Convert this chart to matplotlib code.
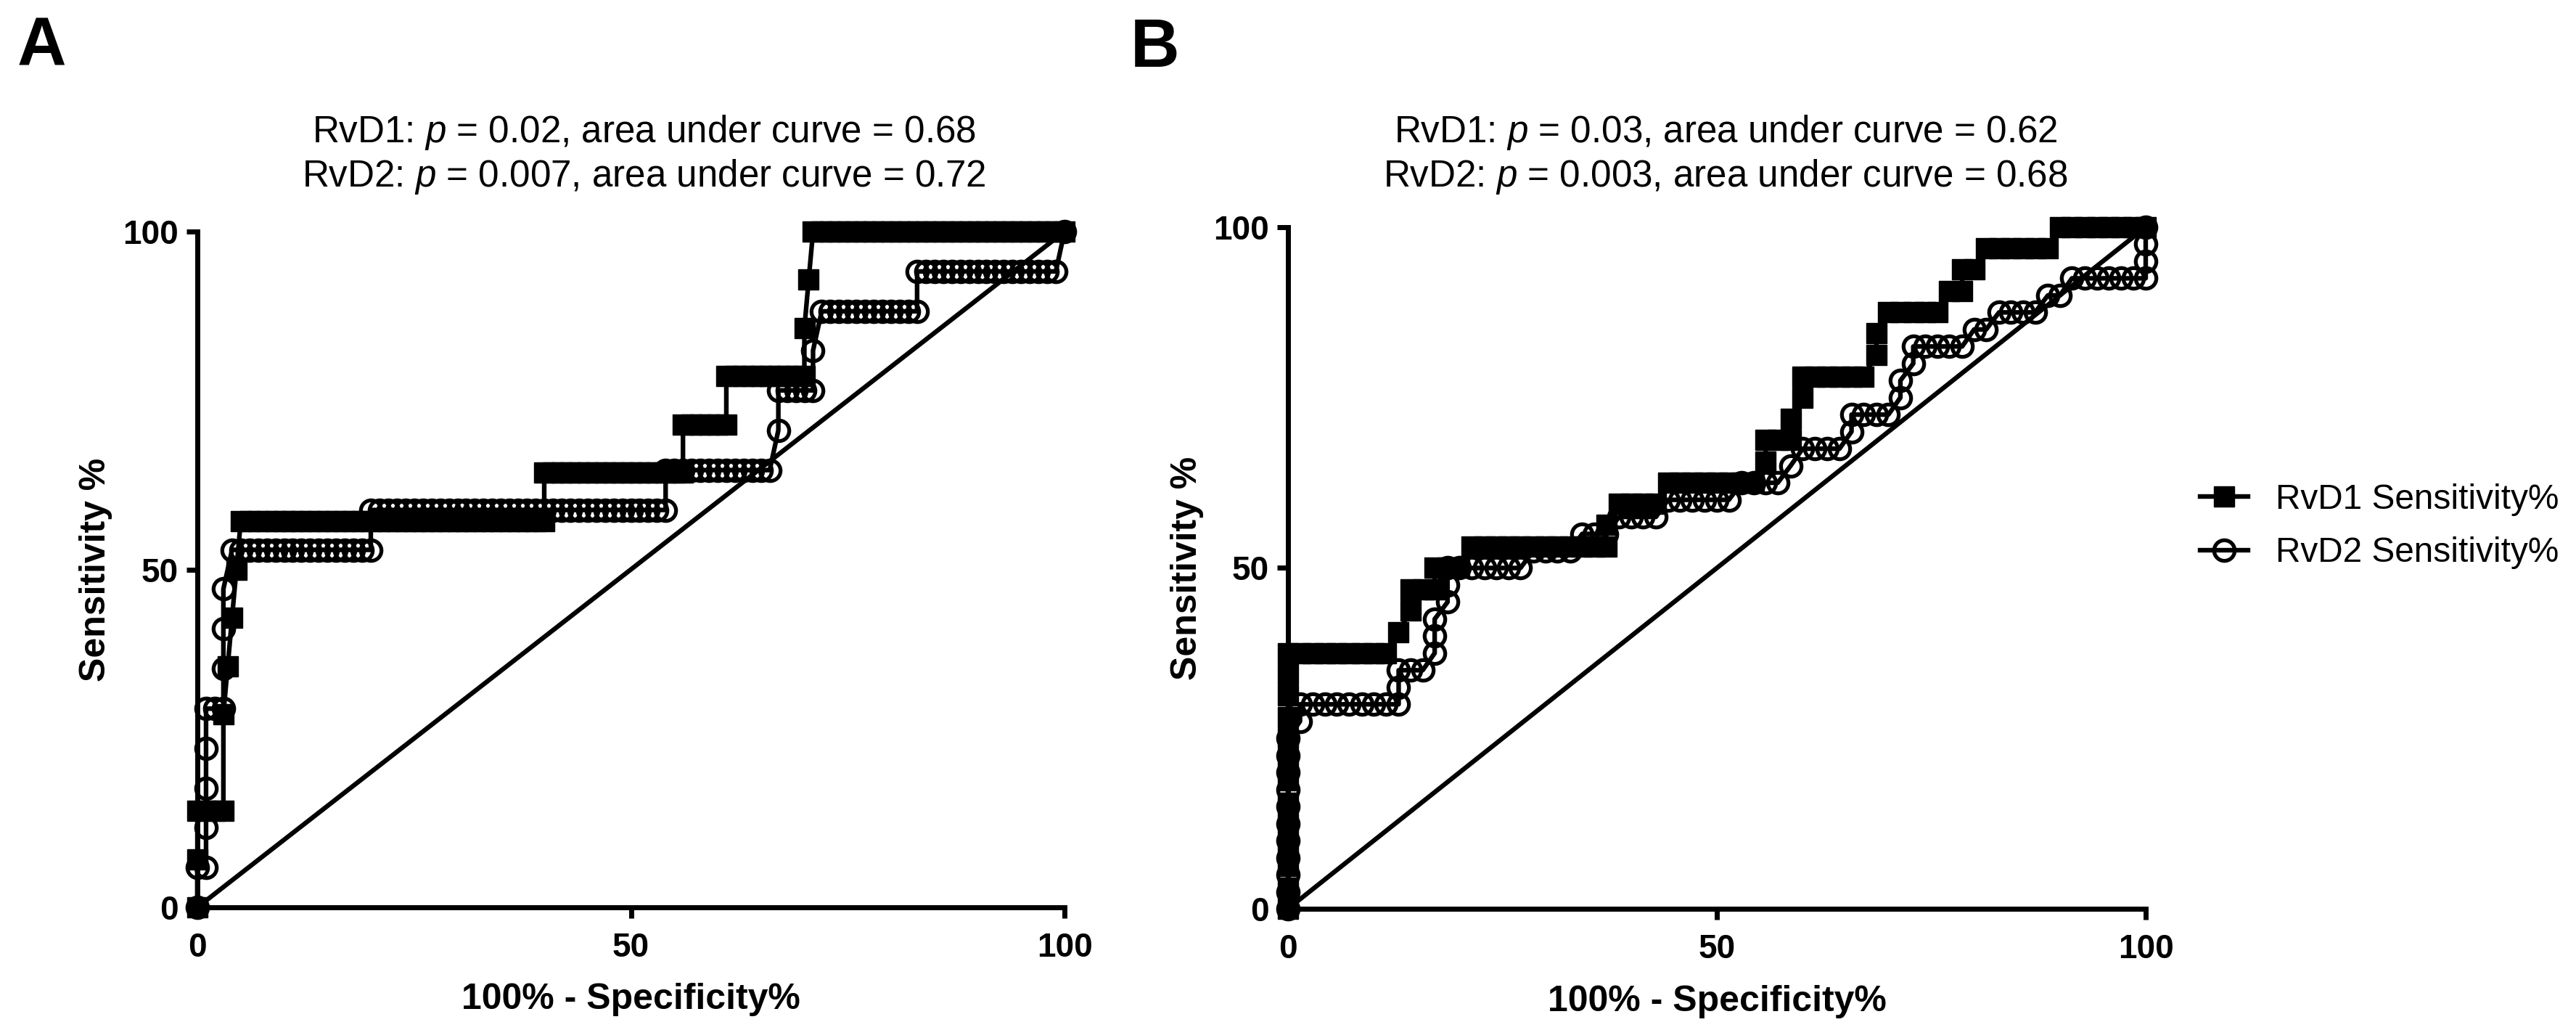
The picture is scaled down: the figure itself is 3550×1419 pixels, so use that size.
import matplotlib
matplotlib.use("Agg")
import matplotlib.pyplot as plt

plt.rcParams['font.family'] = ['Liberation Sans', 'DejaVu Sans']
plt.rcParams['mathtext.fontset'] = 'custom'
plt.rcParams['mathtext.rm'] = 'Liberation Sans'
plt.rcParams['mathtext.it'] = 'Liberation Sans:italic'

# ---- data: sensitivity level -> list of (100% - specificity%) values ----
# panel A, RvD1 (filled squares)
a_rvd1_sens = [0, 7.1, 14.3, 28.6, 35.7, 42.9, 50.0, 57.1, 64.3, 71.4, 78.6, 85.7, 92.9, 100]
a_rvd1_fpr = [
    [0], [0], [0, 1, 2, 3], [3], [3.5], [4], [4.5],
    [5, 6, 7, 8, 9, 10, 11, 12, 13, 14, 15, 16, 17, 18, 19, 20, 21, 22, 23, 24,
     25, 26, 27, 28, 29, 30, 31, 32, 33, 34, 35, 36, 37, 38, 39, 40],
    [40, 41, 42, 43, 44, 45, 46, 47, 48, 49, 50, 51, 52, 53, 54, 55, 56],
    [56, 57, 58, 59, 60, 61],
    [61, 62, 63, 64, 65, 66, 67, 68, 69, 70],
    [70], [70.5],
    [71, 72, 73, 74, 75, 76, 77, 78, 79, 80, 81, 82, 83, 84, 85, 86, 87, 88, 89, 90,
     91, 92, 93, 94, 95, 96, 97, 98, 99, 100],
]

# panel A, RvD2 (open circles)
a_rvd2_sens = [0, 5.9, 11.8, 17.6, 23.5, 29.4, 35.3, 41.2, 47.1, 52.9, 58.8, 64.7,
               70.6, 76.5, 82.4, 88.2, 94.1, 100]
a_rvd2_fpr = [
    [0], [0, 1], [1], [1], [1], [1, 2, 3], [3], [3], [3],
    [4, 5, 6, 7, 8, 9, 10, 11, 12, 13, 14, 15, 16, 17, 18, 19, 20],
    [20, 21, 22, 23, 24, 25, 26, 27, 28, 29, 30, 31, 32, 33, 34, 35, 36, 37, 38, 39,
     40, 41, 42, 43, 44, 45, 46, 47, 48, 49, 50, 51, 52, 53, 54],
    [54, 55, 56, 57, 58, 59, 60, 61, 62, 63, 64, 65, 66],
    [67],
    [67, 68, 69, 70, 71],
    [71],
    [72, 73, 74, 75, 76, 77, 78, 79, 80, 81, 82, 83],
    [83, 84, 85, 86, 87, 88, 89, 90, 91, 92, 93, 94, 95, 96, 97, 98, 99],
    [100],
]

# panel B, RvD1 (filled squares)
b_rvd1_sens = [0, 3.1, 6.3, 9.4, 12.5, 15.6, 18.8, 21.9, 25.0, 28.1, 31.3, 34.4,
               37.5, 40.6, 43.8, 46.9, 50.0, 53.1, 56.3, 59.4, 62.5, 65.6, 68.8,
               71.9, 75.0, 78.1, 81.3, 84.4, 87.5, 90.6, 93.8, 96.9, 100]
b_rvd1_fpr = [
    [0], [0], [0], [0], [0], [0], [0], [0], [0], [0], [0], [0],
    [0, 1.4, 2.9, 4.3, 5.7, 7.1, 8.6, 10, 11.4],
    [12.9], [14.3], [14.3, 15.7, 17.1], [17.1, 18.6, 20],
    [21.4, 22.9, 24.3, 25.7, 27.1, 28.6, 30, 31.4, 32.9, 34.3, 35.7, 37.1],
    [37.1],
    [38.6, 40, 41.4, 42.9],
    [44.3, 45.7, 47.1, 48.6, 50, 51.4, 52.9, 54.3],
    [55.7],
    [55.7, 57.1, 58.6],
    [58.6], [60],
    [60, 61.4, 62.9, 64.3, 65.7, 67.1],
    [68.6], [68.6],
    [70, 71.4, 72.9, 74.3, 75.7],
    [77.1, 78.6],
    [78.6, 80],
    [81.4, 82.9, 84.3, 85.7, 87.1, 88.6],
    [90, 91.4, 92.9, 94.3, 95.7, 97.1, 98.6, 100],
]

# panel B, RvD2 (open circles)
b_rvd2_sens = [0, 2.5, 5, 7.5, 10, 12.5, 15, 17.5, 20, 22.5, 25, 27.5, 30, 32.5,
               35, 37.5, 40, 42.5, 45, 47.5, 50, 52.5, 55, 57.5, 60, 62.5, 65,
               67.5, 70, 72.5, 75, 77.5, 80, 82.5, 85, 87.5, 90, 92.5, 95, 97.5, 100]
b_rvd2_fpr = [
    [0], [0], [0], [0], [0], [0], [0], [0], [0], [0], [0],
    [1.4],
    [1.4, 2.9, 4.3, 5.7, 7.1, 8.6, 10, 11.4, 12.9],
    [12.9],
    [12.9, 14.3, 15.7],
    [17.1], [17.1], [17.1], [18.6], [18.6],
    [18.6, 20, 21.4, 22.9, 24.3, 25.7, 27.1],
    [28.6, 30, 31.4, 32.9],
    [34.3, 35.7, 37.1],
    [38.6, 40, 41.4, 42.9],
    [44.3, 45.7, 47.1, 48.6, 50, 51.4],
    [52.9, 54.3, 55.7, 57.1],
    [58.6],
    [60, 61.4, 62.9, 64.3],
    [65.7],
    [65.7, 67.1, 68.6, 70],
    [71.4], [71.4], [72.9],
    [72.9, 74.3, 75.7, 77.1, 78.6],
    [80, 81.4],
    [82.9, 84.3, 85.7, 87.1],
    [88.6, 90],
    [91.4, 92.9, 94.3, 95.7, 97.1, 98.6, 100],
    [100], [100], [100],
]

titles_a = [r'RvD1: $p$ = 0.02, area under curve = 0.68',
            r'RvD2: $p$ = 0.007, area under curve = 0.72']
titles_b = [r'RvD1: $p$ = 0.03, area under curve = 0.62',
            r'RvD2: $p$ = 0.003, area under curve = 0.68']
series_names = ['RvD1 Sensitivity%', 'RvD2 Sensitivity%']
ticks = [0, 50, 100]
chance = [0, 100]


def roc_points(levels, runs):
    xs, ys = [], []
    for s, run in zip(levels, runs):
        for f in run:
            xs.append(f)
            ys.append(s)
    return xs, ys


W, H = 3550, 1419
fig = plt.figure(figsize=(W / 200, H / 200), dpi=200)

ax_a = fig.add_axes([272 / W, 1 - 1250 / H, 1195 / W, 931 / H])
ax_b = fig.add_axes([1775 / W, 1 - 1252 / H, 1182 / W, 939 / H])

line_kw = dict(color='black', lw=2.3, clip_on=False)
sq_kw = dict(marker='s', ms=10.2, mfc='black', mec='black', mew=0.5)
ci_kw = dict(marker='o', ms=10.2, mfc='none', mec='black', mew=1.9)

handles = []
for ax, d1, d2 in [(ax_a, (a_rvd1_sens, a_rvd1_fpr), (a_rvd2_sens, a_rvd2_fpr)),
                   (ax_b, (b_rvd1_sens, b_rvd1_fpr), (b_rvd2_sens, b_rvd2_fpr))]:
    ax.plot(chance, chance, color='black', lw=2.3, zorder=2, clip_on=False)
    x1, y1 = roc_points(*d1)
    x2, y2 = roc_points(*d2)
    h1, = ax.plot(x1, y1, zorder=3, **line_kw, **sq_kw)
    h2, = ax.plot(x2, y2, zorder=4, **line_kw, **ci_kw)
    handles = [h1, h2]

    ax.set_xlim(0, 100)
    ax.set_ylim(0, 100)
    ax.set_xticks(ticks)
    ax.set_yticks(ticks)
    for side in ['top', 'right']:
        ax.spines[side].set_visible(False)
    for side in ['left', 'bottom']:
        ax.spines[side].set_linewidth(2.5)
    ax.tick_params(axis='both', length=5.4, width=2.5, labelsize=16.5)
    ax.tick_params(axis='x', pad=7)
    ax.tick_params(axis='y', pad=4)
    for lab in ax.get_xticklabels() + ax.get_yticklabels():
        lab.set_fontweight('bold')
    ax.set_xlabel('100% - Specificity%', fontsize=18, fontweight='bold')
    ax.set_ylabel('Sensitivity %', fontsize=18, fontweight='bold')
    ax.xaxis.set_label_coords(0.5, -0.112)
    ax.yaxis.set_label_coords(-0.098, 0.5)

# titles above each panel
for cx, lines in [(887, titles_a), (2378, titles_b)]:
    fig.text(cx / W, 1 - 196 / H, lines[0], ha='center', va='baseline', fontsize=18.4)
    fig.text(cx / W, 1 - 257 / H, lines[1], ha='center', va='baseline', fontsize=18.4)

# panel letters
fig.text(24 / W, 1 - 91 / H, 'A', fontsize=33.7, fontweight='bold', ha='left', va='baseline')
fig.text(1558 / W, 1 - 92 / H, 'B', fontsize=33.7, fontweight='bold', ha='left', va='baseline')

fig.legend(handles, series_names, loc='center left',
           bbox_to_anchor=(3032 / W, 1 - 725 / H), frameon=False, fontsize=17.2,
           borderpad=0, borderaxespad=0, handlelength=1.38, handletextpad=0.8,
           labelspacing=0.6)

fig.savefig('out.png', dpi=200, facecolor='white')
